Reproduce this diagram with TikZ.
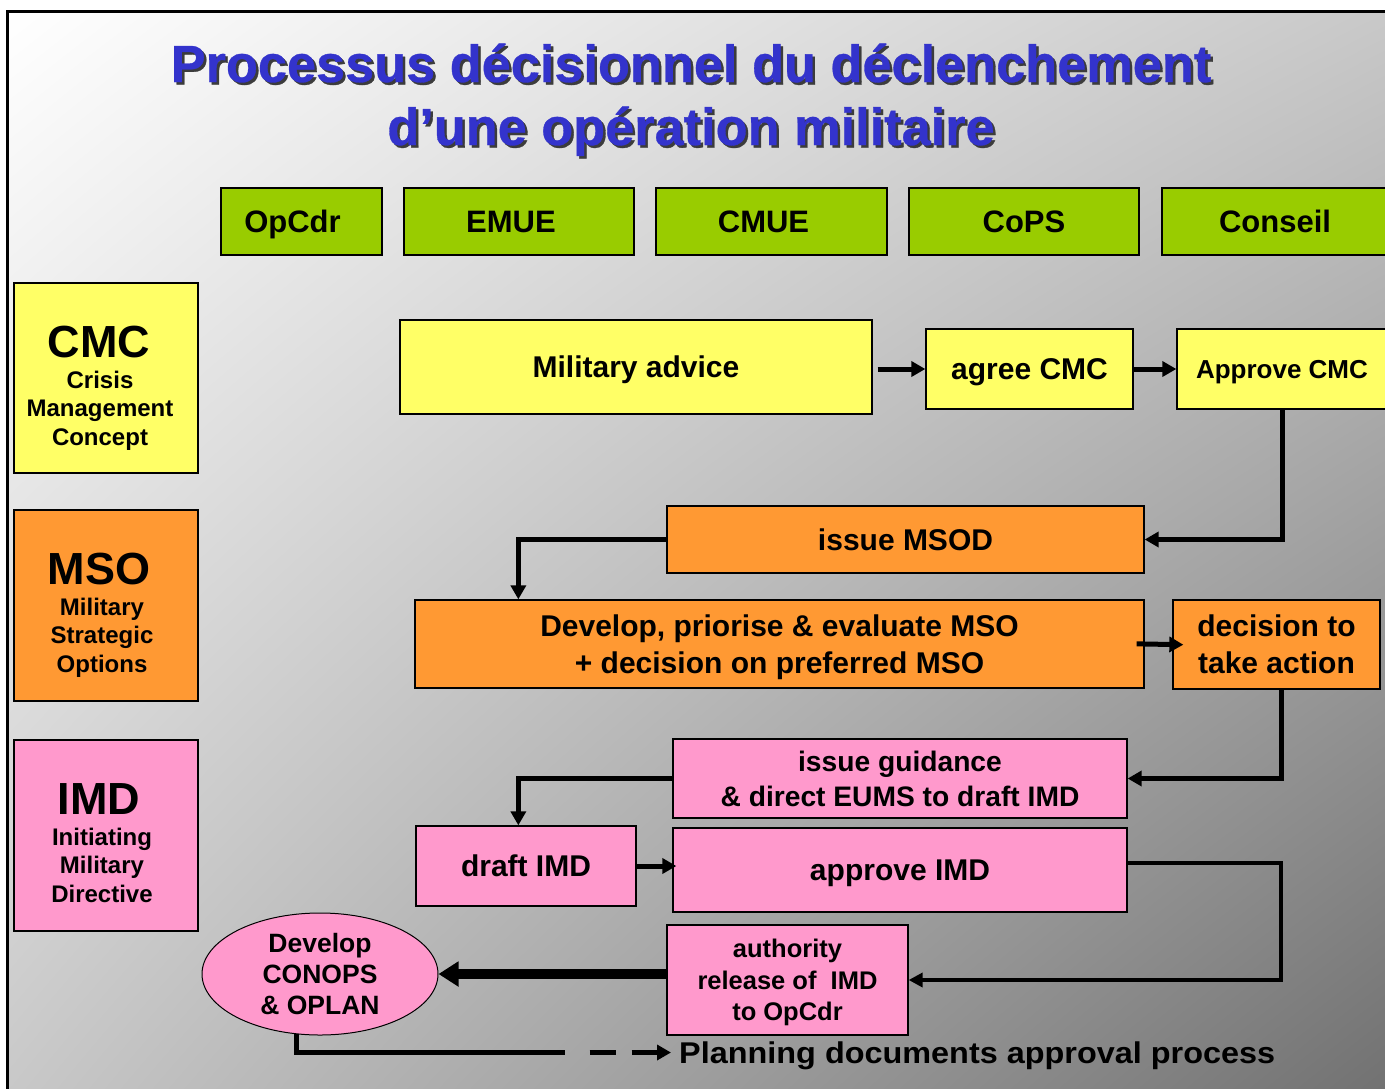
\documentclass[tikz,border=0pt]{standalone}
\usepackage{fontspec}
\usepackage{graphicx}
\setmainfont{Liberation Sans}
\usetikzlibrary{arrows.meta,shapes.geometric,calc,shadings}
\definecolor{titleblue}{RGB}{51,51,204}
\definecolor{titleshadow}{RGB}{60,60,60}
\definecolor{hdrgreen}{RGB}{153,204,0}
\definecolor{cmcyellow}{RGB}{255,255,102}
\definecolor{msoorange}{RGB}{255,153,51}
\definecolor{imdpink}{RGB}{255,153,204}
\definecolor{bgmid}{RGB}{200,200,200}
\definecolor{bgdark}{RGB}{112,112,112}
\newcommand{\fsz}[2]{\fontsize{#1}{#2}\selectfont\bfseries}
\begin{document}
\begin{tikzpicture}[x=1pt,y=-1pt,
  box/.style={draw=black, line width=1.3pt, inner sep=0pt, align=center},
  hdr/.style={box, fill=hdrgreen, minimum height=67pt, font=\fsz{31}{37}, text height=22.2pt, text depth=0pt},
  one30/.style={font=\fsz{30}{37}, text height=21.5pt, text depth=0pt},
  two30/.style={font=\fsz{30}{37}, text depth=0pt},
  bigtag/.style={anchor=base, font=\fsz{45}{50}},
  subtag/.style={anchor=base, font=\fsz{24}{28.5}, align=center},
  conn/.style={line width=5pt, -{Triangle[length=14pt,width=15pt]}},
  ttl/.style={anchor=base, font=\fsz{52.3}{63}\addfontfeatures{FakeBold=0.6}, text=titleblue},
  ttlsh/.style={anchor=base, font=\fsz{52.3}{63}\addfontfeatures{FakeBold=0.6}, text=titleshadow}
]
\useasboundingbox (0,0) rectangle (1385,1088);
\begin{scope}
\clip (0,0) rectangle (1385,1088);
\shade[upper left=white, upper right=bgmid, lower left=bgmid, lower right=bgdark] (7.5,11.5) rectangle (1400,1100);
\draw[line width=2.6pt] (7.5,11.5) rectangle (1400,1100);

% title
\node[ttlsh] (t1s) at (693.5,84.5) {Processus décisionnel du déclenchement};
\node[ttl] (t1) at (691,82) {Processus décisionnel du déclenchement};
\node[ttlsh] (t2s) at (693.5,147.5) {d’une opération militaire};
\node[ttl] (t2) at (691,145) {d’une opération militaire};

% column headers
\node[hdr, minimum width=161pt] (opcdr) at (301.5,221.5) {OpCdr\hspace*{18pt}};
\node[hdr, minimum width=230pt] (emue) at (519,221.5) {EMUE\hspace*{16pt}};
\node[hdr, minimum width=231pt] (cmue) at (771.5,221.5) {CMUE\hspace*{16pt}};
\node[hdr, minimum width=230pt] (cops) at (1024,221.5) {CoPS};
\node[hdr, minimum width=226pt] (conseil) at (1275,221.5) {Conseil};

% left category boxes
\node[box, fill=cmcyellow, minimum width=184pt, minimum height=190pt] (cmc) at (106,378) {};
\node[bigtag] (cmcT) at (99,357) {CMC};
\node[subtag] (cmcS) at (100,445) {Crisis\\Management\\Concept};
\node[box, fill=msoorange, minimum width=184pt, minimum height=191pt] (mso) at (106,605.5) {};
\node[bigtag] (msoT) at (99,584) {MSO};
\node[subtag] (msoS) at (102,672) {Military\\Strategic\\Options};
\node[box, fill=imdpink, minimum width=184pt, minimum height=191pt] (imd) at (106,835.5) {};
\node[bigtag] (imdT) at (99,814) {IMD};
\node[subtag] (imdS) at (102,902) {Initiating\\Military\\Directive};

% flow boxes
\node[box, one30, fill=cmcyellow, minimum width=472pt, minimum height=94pt] (mil) at (636,367) {Military advice};
\node[box, one30, fill=cmcyellow, minimum width=207pt, minimum height=80pt] (agree) at (1029.5,369) {agree CMC};
\node[box, fill=cmcyellow, minimum width=210pt, minimum height=80pt, font=\fsz{26}{31}, text height=18.6pt, text depth=0pt] (apcmc) at (1282,369) {Approve CMC};
\node[box, one30, fill=msoorange, minimum width=477pt, minimum height=67pt] (msod) at (905.5,539.5) {issue MSOD};
\node[box, two30, fill=msoorange, minimum width=729pt, minimum height=88pt] (dev) at (779.5,644) {Develop, priorise \& evaluate MSO\\+ decision on preferred MSO};
\node[box, two30, fill=msoorange, minimum width=207pt, minimum height=89pt] (dec) at (1276.5,644.5) {decision to\\take action};
\node[box, fill=imdpink, minimum width=454pt, minimum height=79pt, font=\fsz{28.2}{35}] (guid) at (900,778.5) {issue guidance\\\& direct EUMS to draft IMD};
\node[box, one30, fill=imdpink, minimum width=220pt, minimum height=80pt] (draft) at (526,866) {draft IMD};
\node[box, one30, fill=imdpink, minimum width=454pt, minimum height=84pt] (appimd) at (900,870) {approve IMD};
\node[box, fill=imdpink, minimum width=241pt, minimum height=110pt, font=\fsz{25.5}{31.5}, text depth=0pt] (auth) at (787.5,980) {authority\\release of~ IMD\\to OpCdr};
\node[draw=black, line width=1pt, ellipse, fill=imdpink, minimum width=236pt, minimum height=122pt, inner sep=0pt, align=center, font=\fsz{26.5}{31}] (ell) at (320,974) {Develop\\CONOPS\\\& OPLAN};
\node[anchor=west, inner sep=0pt, font=\fsz{30}{36}, text height=21.5pt, text depth=0pt] (plan) at (679,1052.5) {\scalebox{1.08}[1]{Planning documents approval process}};

% connectors
\draw[conn, shorten <=5pt] (mil.east |- agree.west) -- (agree.west);
\draw[conn] (agree.east) -- (apcmc.west);
\draw[conn] (apcmc.south) |- (msod.east);
\draw[conn] (msod.west) -| ([xshift=104pt]dev.north west);
\draw[conn, shorten <=-8pt, shorten >=-11pt] (dev.east) -- (dec.west);
\draw[conn] ([xshift=4.5pt]dec.south) |- (guid.east);
\draw[conn] (guid.west) -| ([xshift=103pt]draft.north west);
\draw[conn, shorten >=-4pt] (draft.east) -- (draft.east -| appimd.west);
\draw[line width=4pt, -{Triangle[length=14pt,width=14pt]}] ([yshift=7pt]appimd.east) -- ++(153pt,0pt) |- (auth.east);
\draw[line width=10pt, -{Triangle[length=20pt,width=24pt]}] (auth.west |- ell.east) -- (ell.east);
\draw[conn, dash pattern=on 286pt off 25pt on 26pt off 16pt on 300pt] (ell.249) |- ([xshift=-8pt]plan.west);
\end{scope}
\end{tikzpicture}
\end{document}
